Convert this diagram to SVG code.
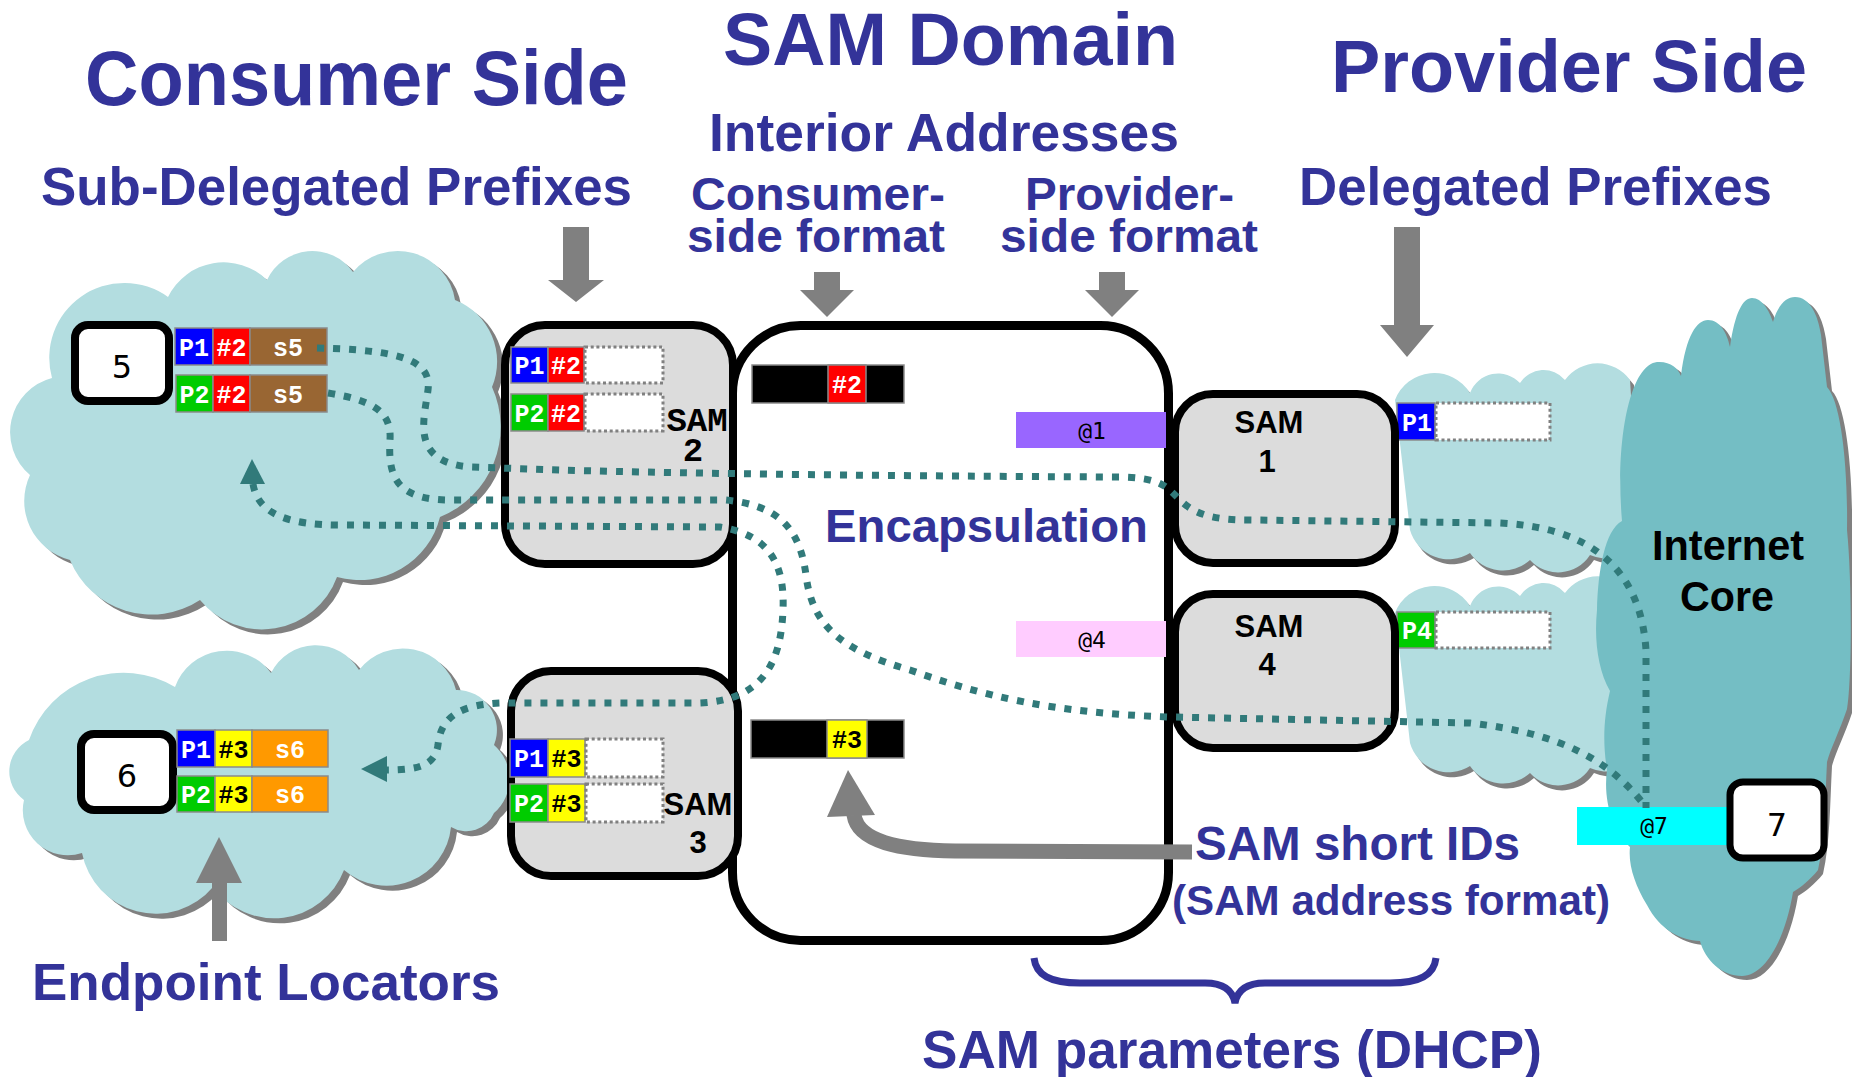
<svg xmlns="http://www.w3.org/2000/svg" width="1852" height="1077" viewBox="0 0 1852 1077">
<style>
.h{font-family:"Liberation Sans",Arial,sans-serif;font-weight:bold;fill:#333399}
.cl{fill:#b3dde0}
.ic{fill:#74bec4}
.sh{fill:#808080}
.sam{fill:#dcdcdc;stroke:#000;stroke-width:8}
.node{fill:#fff;stroke:#000;stroke-width:8}
.cell{stroke:#8a8a8a;stroke-width:1.5}
.dot{fill:#fff;stroke:#808080;stroke-width:3;stroke-dasharray:3 2.7}
.ct{font-family:"Liberation Mono","Courier New",monospace;font-weight:bold;font-size:25px;text-anchor:middle;fill:#fff}
.k{fill:#000}
.at{font-family:"DejaVu Sans Mono","Liberation Mono",monospace;font-size:23px;text-anchor:middle;fill:#000}
.nt{font-family:"DejaVu Sans","Liberation Sans",sans-serif;font-size:32px;text-anchor:middle;fill:#000}
.sl{font-family:"Liberation Sans",Arial,sans-serif;font-weight:bold;font-size:31px;text-anchor:middle;fill:#000}
.conn{fill:none;stroke:#317a7a;stroke-width:7;stroke-dasharray:7 9}
.ga{fill:#808080}
</style>
<defs>
<path id="cloud1" d="M 52 378 A 75 75 0 0 1 168 297 A 62 62 0 0 1 267 280 A 50 50 0 0 1 353 272 A 58 58 0 0 1 455 300 A 66 66 0 0 1 492 387 A 97 97 0 0 1 440 517 A 83 83 0 0 1 337 577 A 80 80 0 0 1 200 600 A 88 88 0 0 1 70 560 A 61 61 0 0 1 30 475 A 56 56 0 0 1 52 378 Z"/>
<path id="cloud2" d="M 29 740 A 100 100 0 0 1 175 687 A 55 55 0 0 1 271 673 A 50 50 0 0 1 359 670 A 55 55 0 0 1 456 690 A 40 40 0 0 1 494 745 A 45 45 0 0 1 494 813 A 30 30 0 0 1 451 827 A 65 65 0 0 1 344 870 A 75 75 0 0 1 213 887 A 75 75 0 0 1 82 853 A 45 45 0 0 1 24 800 A 35 35 0 0 1 29 740 Z"/>
<path id="pcloud" d="M 1395 400 A 42 42 0 0 1 1470 393 A 30 30 0 0 1 1520 383 A 28 28 0 0 1 1565 380 A 40 40 0 0 1 1630 380 L 1640 540 A 40 40 0 0 1 1590 555 A 38 38 0 0 1 1530 560 A 40 40 0 0 1 1470 553 A 40 40 0 0 1 1410 530 Z"/>
<path id="core" d="M 1622 521 C 1615 440 1630 365 1657 362 C 1670 361 1678 368 1681 376 C 1686 335 1697 320 1708 320 C 1720 320 1727 333 1730 347 C 1735 312 1743 298 1752 298 C 1762 298 1769 310 1773 322 C 1778 305 1786 297 1795 297 C 1810 297 1818 315 1821 335 L 1827 387 C 1840 400 1848 460 1847 530 C 1852 580 1852 680 1847 709 C 1840 730 1830 750 1827 762 C 1825 800 1825 840 1818 870 C 1810 880 1800 888 1793 892 C 1785 940 1765 976 1742 976 C 1722 976 1705 960 1700 941 C 1680 940 1660 930 1647 905 C 1635 885 1628 865 1630 847 C 1612 830 1603 800 1607 770 C 1603 745 1603 720 1610 691 C 1598 670 1594 640 1597 610 C 1598 570 1605 530 1622 521 Z"/>
</defs>
<rect width="1852" height="1077" fill="#fff"/>

<g id="clouds">
<use href="#cloud1" class="sh" transform="translate(6,5)"/>
<use href="#cloud1" class="cl"/>
<use href="#cloud2" class="sh" transform="translate(6,5)"/>
<use href="#cloud2" class="cl"/>
<use href="#pcloud" class="sh" transform="translate(4,5)"/>
<use href="#pcloud" class="cl"/>
<g transform="translate(0,213)">
<use href="#pcloud" class="sh" transform="translate(4,5)"/>
<use href="#pcloud" class="cl"/>
</g>
<use href="#core" class="sh" transform="translate(5,4)"/>
<use href="#core" class="ic"/>
</g>

<g id="sam-domain">
<rect x="732.5" y="325.5" width="436" height="615" rx="68" fill="#fff" stroke="#000" stroke-width="9"/>
<rect x="752" y="365" width="152" height="38" fill="#000" class="cell"/>
<rect x="828" y="365" width="38" height="38" fill="#ff0000" class="cell"/>
<text class="ct" x="847" y="393">#2</text>
<rect x="751" y="720" width="153" height="38" fill="#000" class="cell"/>
<rect x="827" y="720" width="40" height="38" fill="#ffff00" class="cell"/>
<text class="ct k" x="847" y="748">#3</text>
<rect x="1016" y="412" width="150" height="36" fill="#9966ff"/>
<text class="at" x="1092" y="439">@1</text>
<rect x="1016" y="621" width="150" height="36" fill="#ffccff"/>
<text class="at" x="1092" y="648">@4</text>
</g>

<g id="sam2">
<rect class="sam" x="505" y="325" width="228" height="239" rx="40"/>
<rect x="511" y="347" width="37" height="36" fill="#0000ff" class="cell"/>
<rect x="548" y="347" width="36" height="36" fill="#ff0000" class="cell"/>
<rect x="585" y="347" width="78" height="36" class="dot"/>
<text class="ct" x="529.5" y="374">P1</text>
<text class="ct" x="566" y="374">#2</text>
<rect x="511" y="394" width="37" height="37" fill="#00cc00" class="cell"/>
<rect x="548" y="394" width="36" height="37" fill="#ff0000" class="cell"/>
<rect x="585" y="394" width="78" height="37" class="dot"/>
<text class="ct" x="529.5" y="422">P2</text>
<text class="ct" x="566" y="422">#2</text>
<text x="697" y="431" font-family="Liberation Mono,monospace" font-weight="bold" font-size="34" text-anchor="middle">SAM</text>
<text x="693" y="461" font-family="Liberation Mono,monospace" font-weight="bold" font-size="34" text-anchor="middle">2</text>
</g>

<g id="sam3">
<rect class="sam" x="511" y="671" width="227" height="205" rx="40"/>
<rect x="510" y="739" width="38" height="38" fill="#0000ff" class="cell"/>
<rect x="548" y="739" width="37" height="38" fill="#ffff00" class="cell"/>
<rect x="586" y="739" width="77" height="38" class="dot"/>
<text class="ct" x="529" y="767">P1</text>
<text class="ct k" x="566.5" y="767">#3</text>
<rect x="510" y="784" width="38" height="38" fill="#00cc00" class="cell"/>
<rect x="548" y="784" width="37" height="38" fill="#ffff00" class="cell"/>
<rect x="586" y="784" width="77" height="38" class="dot"/>
<text class="ct" x="529" y="812">P2</text>
<text class="ct k" x="566.5" y="812">#3</text>
<text class="sl" x="698" y="815">SAM</text>
<text class="sl" x="698" y="853">3</text>
</g>

<g id="sam1">
<rect x="1397" y="403" width="38" height="37" fill="#0000ff" class="cell"/>
<rect x="1436" y="403" width="114" height="37" class="dot"/>
<text class="ct" x="1417" y="431">P1</text>
<rect class="sam" x="1175" y="394" width="220" height="169" rx="38"/>
<text class="sl" x="1269" y="433">SAM</text>
<text class="sl" x="1267" y="472">1</text>
</g>

<g id="sam4">
<rect x="1397" y="612" width="38" height="36" fill="#00cc00" class="cell"/>
<rect x="1436" y="612" width="114" height="36" class="dot"/>
<text class="ct" x="1417" y="639">P4</text>
<rect class="sam" x="1175" y="594" width="220" height="154" rx="38"/>
<text class="sl" x="1269" y="637">SAM</text>
<text class="sl" x="1267" y="675">4</text>
</g>

<g id="node5">
<rect class="node" x="75" y="325" width="94" height="76" rx="13"/>
<text class="nt" x="122" y="378">5</text>
<rect x="175" y="328" width="38" height="37" fill="#0000ff" class="cell"/>
<rect x="213" y="328" width="37" height="37" fill="#ff0000" class="cell"/>
<rect x="250" y="328" width="77" height="37" fill="#996633" class="cell"/>
<text class="ct" x="194" y="356">P1</text>
<text class="ct" x="231.5" y="356">#2</text>
<text class="ct" x="288" y="356">s5</text>
<rect x="176" y="375" width="37" height="37" fill="#00cc00" class="cell"/>
<rect x="213" y="375" width="37" height="37" fill="#ff0000" class="cell"/>
<rect x="250" y="375" width="77" height="37" fill="#996633" class="cell"/>
<text class="ct" x="194.5" y="403">P2</text>
<text class="ct" x="231.5" y="403">#2</text>
<text class="ct" x="288" y="403">s5</text>
</g>

<g id="node6">
<rect class="node" x="81" y="734" width="92" height="76" rx="13"/>
<text class="nt" x="127" y="787">6</text>
<rect x="177" y="730" width="38" height="37" fill="#0000ff" class="cell"/>
<rect x="215" y="730" width="37" height="37" fill="#ffff00" class="cell"/>
<rect x="252" y="730" width="76" height="37" fill="#ff9900" class="cell"/>
<text class="ct" x="196" y="758">P1</text>
<text class="ct k" x="233.5" y="758">#3</text>
<text class="ct" x="290" y="758">s6</text>
<rect x="177" y="776" width="38" height="36" fill="#00cc00" class="cell"/>
<rect x="215" y="776" width="37" height="36" fill="#ffff00" class="cell"/>
<rect x="252" y="776" width="76" height="36" fill="#ff9900" class="cell"/>
<text class="ct" x="196" y="803">P2</text>
<text class="ct k" x="233.5" y="803">#3</text>
<text class="ct" x="290" y="803">s6</text>
</g>

<g id="node7">
<rect x="1577" y="807" width="153" height="38" fill="#00ffff"/>
<text class="at" x="1654" y="834">@7</text>
<rect x="1730" y="782" width="94" height="76" rx="13" fill="#fff" stroke="#000" stroke-width="7"/>
<text class="nt" x="1777" y="836">7</text>
</g>

<g id="labels">
<text class="h" x="85" y="105" font-size="77" textLength="543" lengthAdjust="spacingAndGlyphs">Consumer Side</text>
<text class="h" x="723" y="65" font-size="74" textLength="455" lengthAdjust="spacingAndGlyphs">SAM Domain</text>
<text class="h" x="1331" y="92" font-size="74" textLength="476" lengthAdjust="spacingAndGlyphs">Provider Side</text>
<text class="h" x="709" y="151" font-size="53" textLength="470" lengthAdjust="spacingAndGlyphs">Interior Addresses</text>
<text class="h" x="41" y="205" font-size="53" textLength="591" lengthAdjust="spacingAndGlyphs">Sub-Delegated Prefixes</text>
<text class="h" x="691" y="210" font-size="47" textLength="254" lengthAdjust="spacingAndGlyphs">Consumer-</text>
<text class="h" x="687" y="252" font-size="47" textLength="258" lengthAdjust="spacingAndGlyphs">side format</text>
<text class="h" x="1025" y="210" font-size="47" textLength="209" lengthAdjust="spacingAndGlyphs">Provider-</text>
<text class="h" x="1000" y="252" font-size="47" textLength="258" lengthAdjust="spacingAndGlyphs">side format</text>
<text class="h" x="1299" y="205" font-size="53" textLength="473" lengthAdjust="spacingAndGlyphs">Delegated Prefixes</text>
<text class="h" x="825" y="542" font-size="47" textLength="323" lengthAdjust="spacingAndGlyphs">Encapsulation</text>
<text class="h" x="1195" y="860" font-size="48" textLength="325" lengthAdjust="spacingAndGlyphs">SAM short IDs</text>
<text class="h" x="1172" y="915" font-size="42" textLength="438" lengthAdjust="spacingAndGlyphs">(SAM address format)</text>
<text class="h" x="922" y="1068" font-size="54" textLength="620" lengthAdjust="spacingAndGlyphs">SAM parameters (DHCP)</text>
<text class="h" x="32" y="1000" font-size="52" textLength="468" lengthAdjust="spacingAndGlyphs">Endpoint Locators</text>
<text x="1652" y="560" font-family="Liberation Sans,Arial,sans-serif" font-weight="bold" font-size="42" textLength="152" lengthAdjust="spacingAndGlyphs">Internet</text>
<text x="1680" y="611" font-family="Liberation Sans,Arial,sans-serif" font-weight="bold" font-size="42" textLength="94" lengthAdjust="spacingAndGlyphs">Core</text>
<path d="M 1034 958 C 1036 975 1050 983 1080 983 L 1205 983 C 1225 983 1233 992 1235 1003 C 1237 992 1245 983 1265 983 L 1390 983 C 1420 983 1434 975 1436 958" fill="none" stroke="#333399" stroke-width="7"/>
</g>

<g id="connectors">
<path class="conn" d="M 317 348 C 400 350 432 360 428 390 C 424 420 410 462 470 467 L 560 470 C 700 474 900 476 1120 477 C 1160 478 1165 485 1180 500 C 1195 515 1215 520 1250 520 L 1500 523 C 1580 527 1640 560 1646 650 L 1646 808"/>
<path class="conn" d="M 328 393 C 370 400 392 410 390 440 C 388 475 395 500 450 500 L 725 500 C 780 505 800 530 806 575 C 812 625 840 650 910 670 C 980 695 1050 713 1170 717 L 1470 723 C 1560 733 1610 760 1645 806"/>
<path class="conn" d="M 253 484 C 258 515 290 525 340 525 L 720 527 C 770 535 785 565 783 610 C 781 660 765 700 700 703 L 500 703 C 450 705 440 725 438 745 C 435 765 420 770 386 770"/>
<polygon points="252,459 240,484 265,484" fill="#317a7a"/>
<polygon points="361,769 387,756 387,782" fill="#317a7a"/>
</g>

<g id="arrows">
<path class="ga" d="M 563 227 H 589 V 280 H 604 L 576 302 L 548 280 H 563 Z"/>
<path class="ga" d="M 814 272 H 840 V 290 H 854 L 827 317 L 800 290 H 814 Z"/>
<path class="ga" d="M 1099 272 H 1125 V 290 H 1139 L 1112 317 L 1085 290 H 1099 Z"/>
<path class="ga" d="M 1394 227 H 1420 V 325 H 1434 L 1407 357 L 1380 325 H 1394 Z"/>
<path class="ga" d="M 212 941 V 883 H 196 L 219 837 L 242 883 H 227 V 941 Z"/>
<path d="M 1192 852 L 955 851 C 900 850 858 842 854 815" fill="none" stroke="#808080" stroke-width="15"/>
<polygon class="ga" points="848,770 827,817 875,815"/>
</g>
</svg>
